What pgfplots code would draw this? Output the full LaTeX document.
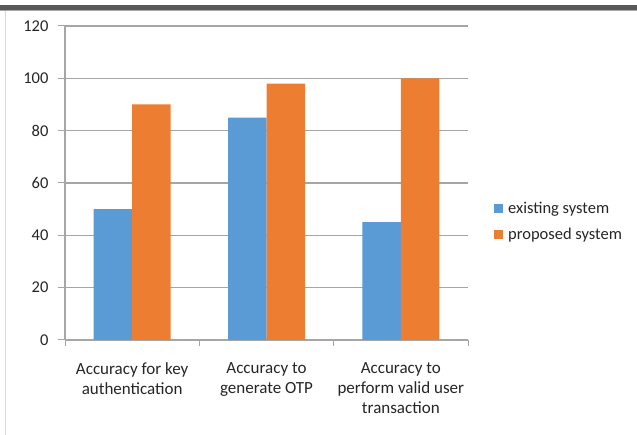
\documentclass[border=0pt]{standalone}
\usepackage{fontspec}
\setmainfont{Carlito}
\usepackage{pgfplots}
\pgfplotsset{compat=1.18}
\definecolor{barblue}{HTML}{5B9BD5}
\definecolor{barorange}{HTML}{ED7D31}
\definecolor{gridgray}{HTML}{A6A6A6}
\definecolor{txt}{HTML}{262626}
\begin{document}
\begin{tikzpicture}[x=1pt,y=1pt]
\useasboundingbox (0,0) rectangle (637,435);
\fill[white] (0,0) rectangle (637,435);
\fill[black!65] (0,425) rectangle (637,430);
\fill[black!35] (0,424) rectangle (637,425);
\draw[black!15, line width=1pt] (5,0) -- (5,424);
\begin{axis}[
  at={(65pt,95pt)}, anchor=south west,
  scale only axis, width=403pt, height=314pt,
  xmin=-0.5, xmax=2.5, ymin=0, ymax=120,
  ytick={0,20,...,120},
  xtick={0,1,2},
  xticklabels={Accuracy for key\\authentication, Accuracy to\\generate OTP, Accuracy to\\perform valid user\\transaction},
  minor xtick={-0.5,0.5,1.5,2.5},
  major x tick style={draw=none},
  minor x tick style={draw=gridgray, line width=1pt},
  y tick style={draw=gridgray, line width=1pt},
  tick align=outside,
  major tick length=7pt, minor tick length=6pt,
  axis x line*=bottom, axis y line*=left,
  axis line style={draw=gridgray, line width=1.2pt, -},
  ymajorgrids, grid style={draw=gridgray, line width=1.2pt},
  ybar=0pt, bar width=38.5pt,
  /pgf/number format/assume math mode=true,
  tick label style={font=\fontsize{16.5}{19.5}\selectfont, text=txt},
  xticklabel style={align=center, yshift=-12pt, font=\fontsize{17}{20}\selectfont},
  yticklabel style={xshift=-6pt},
  legend style={at={(axis description cs:1,0.376)}, anchor=west, xshift=26pt, draw=none, fill=none,
    font=\fontsize{16.5}{19.5}\selectfont, text=txt, row sep=9pt, inner sep=0pt},
  legend cell align=left,
  legend image code/.code={\fill[#1] (0pt,-4.5pt) rectangle (9pt,4.5pt); \path (12pt,0pt);},
]
\addplot[fill=barblue, draw=none] coordinates {(0,50) (1,85) (2,45)};
\addplot[fill=barorange, draw=none] coordinates {(0,90) (1,98) (2,100)};
\legend{existing system, proposed system}
\end{axis}
\end{tikzpicture}
\end{document}
